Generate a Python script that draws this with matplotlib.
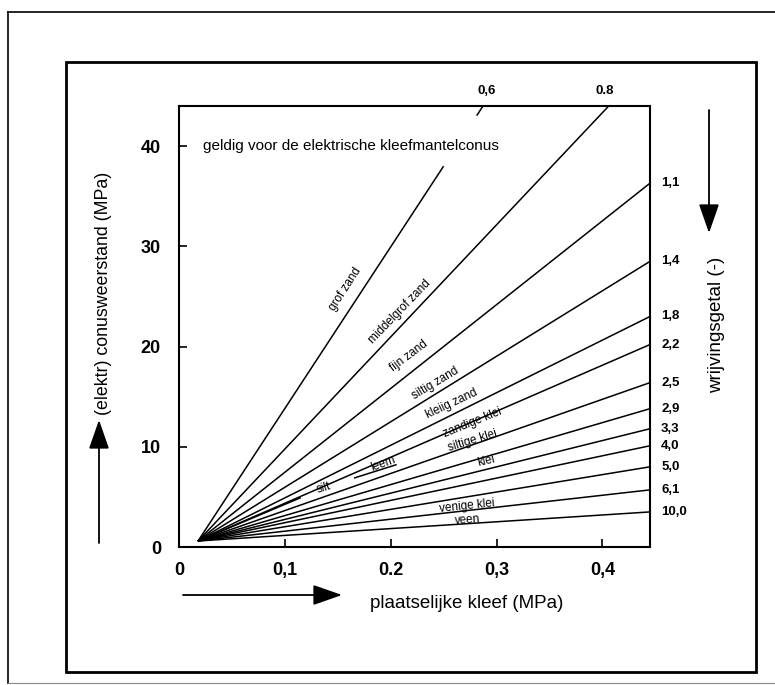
import numpy as np
import matplotlib
matplotlib.use("Agg")
import matplotlib.pyplot as plt
from matplotlib.lines import Line2D
from matplotlib.patches import Rectangle

plt.rcParams['font.family'] = ['Liberation Sans', 'DejaVu Sans']

W, H = 775, 685

# --- wrijvingsgetal-lijnen (allemaal vanuit één punt nabij de oorsprong) ---
x_start, y_start = 0.018, 0.6
ratio_labels = ["0,6", "0.8", "1,1", "1,4", "1,8", "2,2", "2,5",
                "2,9", "3,3", "4,0", "5,0", "6,1", "10,0"]
x_end = [0.25, 0.406, 0.445, 0.445, 0.445, 0.445, 0.445,
         0.445, 0.445, 0.445, 0.445, 0.445, 0.445]
y_end = [38.0, 44.0, 36.3, 28.5, 23.0, 20.2, 16.4,
         13.8, 11.8, 10.1, 8.0, 5.7, 3.5]

# korte hulplijnen bij silt en leem
silt_x = [0.018, 0.1145]
silt_y = [0.6, 4.9]
leem_x = [0.166, 0.205]
leem_y = [6.9, 8.2]

# grondsoort-teksten
soil_names = ["grof zand", "middelgrof zand", "fijn zand", "siltig zand",
              "kleiig zand", "zandige klei", "siltige klei", "klei",
              "leem", "silt", "venige klei", "veen"]
soil_x = [0.157, 0.209, 0.217, 0.242, 0.258, 0.277, 0.277, 0.290,
          0.193, 0.137, 0.272, 0.273]
soil_y = [25.7, 23.5, 19.1, 16.3, 14.3, 12.4, 10.6, 8.6,
          8.3, 5.85, 4.1, 2.7]
soil_rot = [57, 46, 37, 31, 25, 22, 17, 13, 20, 17, 6, 4]

x_ticks = [0, 0.1, 0.2, 0.3, 0.4]
x_ticklabels = ["0", "0,1", "0.2", "0,3", "0,4"]
y_ticks = [0, 10, 20, 30, 40]
y_ticklabels = ["0", "10", "20", "30", "40"]

XMAX, YMAX = 0.445, 44.0


def fx(px):
    return px / W


def fy(py):
    return (H - py) / H


fig = plt.figure(figsize=(W / 100, H / 100), dpi=100)
ax = fig.add_axes([fx(179), fy(547), (650 - 179) / W, (547 - 106) / H])

for i in range(len(ratio_labels)):
    ax.plot([x_start, x_end[i]], [y_start, y_end[i]], color='black', lw=1.1,
            solid_capstyle='butt')

# kort stukje van de 0,6-lijn tegen de bovenrand
slope06 = (x_end[0] - x_start) / (y_end[0] - y_start)
x06_top = x_start + (YMAX - y_start) * slope06
ax.plot([x_start + (43.1 - y_start) * slope06, x06_top], [43.1, YMAX],
        color='black', lw=1.1)

ax.plot(silt_x, silt_y, color='black', lw=1.1)
ax.plot(leem_x, leem_y, color='black', lw=1.1)

ax.set_xlim(0, XMAX)
ax.set_ylim(0, YMAX)
ax.set_xticks(x_ticks)
ax.set_xticklabels(x_ticklabels)
ax.set_yticks(y_ticks)
ax.set_yticklabels(y_ticklabels)
ax.tick_params(direction='in', length=6, width=1.2, labelsize=13)
ax.tick_params(axis='x', pad=11)
ax.tick_params(axis='y', pad=13)
for lab in ax.get_xticklabels() + ax.get_yticklabels():
    lab.set_fontweight('bold')
for sp in ax.spines.values():
    sp.set_linewidth(1.5)

# wrijvingsgetallen rechts en boven
for i in range(2, len(ratio_labels)):
    ax.annotate(ratio_labels[i], xy=(XMAX, y_end[i]), xytext=(8, 0),
                textcoords='offset points', ha='left', va='center',
                fontsize=9.5, fontweight='bold', annotation_clip=False)
ax.annotate(ratio_labels[0], xy=(x06_top, YMAX), xytext=(3, 11),
            textcoords='offset points', ha='center', va='center',
            fontsize=9.5, fontweight='bold', annotation_clip=False)
ax.annotate(ratio_labels[1], xy=(x_end[1], YMAX), xytext=(-3, 11),
            textcoords='offset points', ha='center', va='center',
            fontsize=9.5, fontweight='bold', annotation_clip=False)

for name, x, y, r in zip(soil_names, soil_x, soil_y, soil_rot):
    ax.text(x, y, name, rotation=r, rotation_mode='anchor',
            ha='center', va='center', fontsize=8.5)

ax.text(0.023, 40.0, "geldig voor de elektrische kleefmantelconus",
        ha='left', va='center', fontsize=11)

# aslabels met pijlen
fig.text(fx(103), fy(293), "(elektr) conusweerstand (MPa)", rotation=90,
         ha='center', va='center', fontsize=12.8)
fig.text(fx(467), fy(604), "plaatselijke kleef (MPa)",
         ha='center', va='center', fontsize=13.5)
fig.text(fx(717), fy(325), "wrijvingsgetal (-)", rotation=90,
         ha='center', va='center', fontsize=13.5)

arrow = dict(arrowstyle='-|>,head_length=1.0,head_width=0.35',
             color='black', lw=1.3, shrinkA=0, shrinkB=0, mutation_scale=18)
ax.annotate('', xy=(99, H - 420), xytext=(99, H - 543),
            xycoords='figure pixels', textcoords='figure pixels', arrowprops=arrow)
ax.annotate('', xy=(342, H - 595), xytext=(183, H - 595),
            xycoords='figure pixels', textcoords='figure pixels', arrowprops=arrow)
ax.annotate('', xy=(709, H - 233), xytext=(709, H - 110),
            xycoords='figure pixels', textcoords='figure pixels', arrowprops=arrow)

# kaders
fig.add_artist(Rectangle((fx(66), fy(672)), (756 - 66) / W, (672 - 62) / H,
                         transform=fig.transFigure, fill=False,
                         edgecolor='black', lw=2.0))
fig.add_artist(Line2D([fx(8), fx(8)], [fy(683), fy(12)],
                      transform=fig.transFigure, color='black', lw=1.2))
fig.add_artist(Line2D([fx(8), 1.0], [fy(12), fy(12)],
                      transform=fig.transFigure, color='black', lw=1.2))
fig.add_artist(Line2D([fx(8), 1.0], [fy(683), fy(683)],
                      transform=fig.transFigure, color='#888888', lw=0.8))

fig.savefig("out.png", dpi=100)
